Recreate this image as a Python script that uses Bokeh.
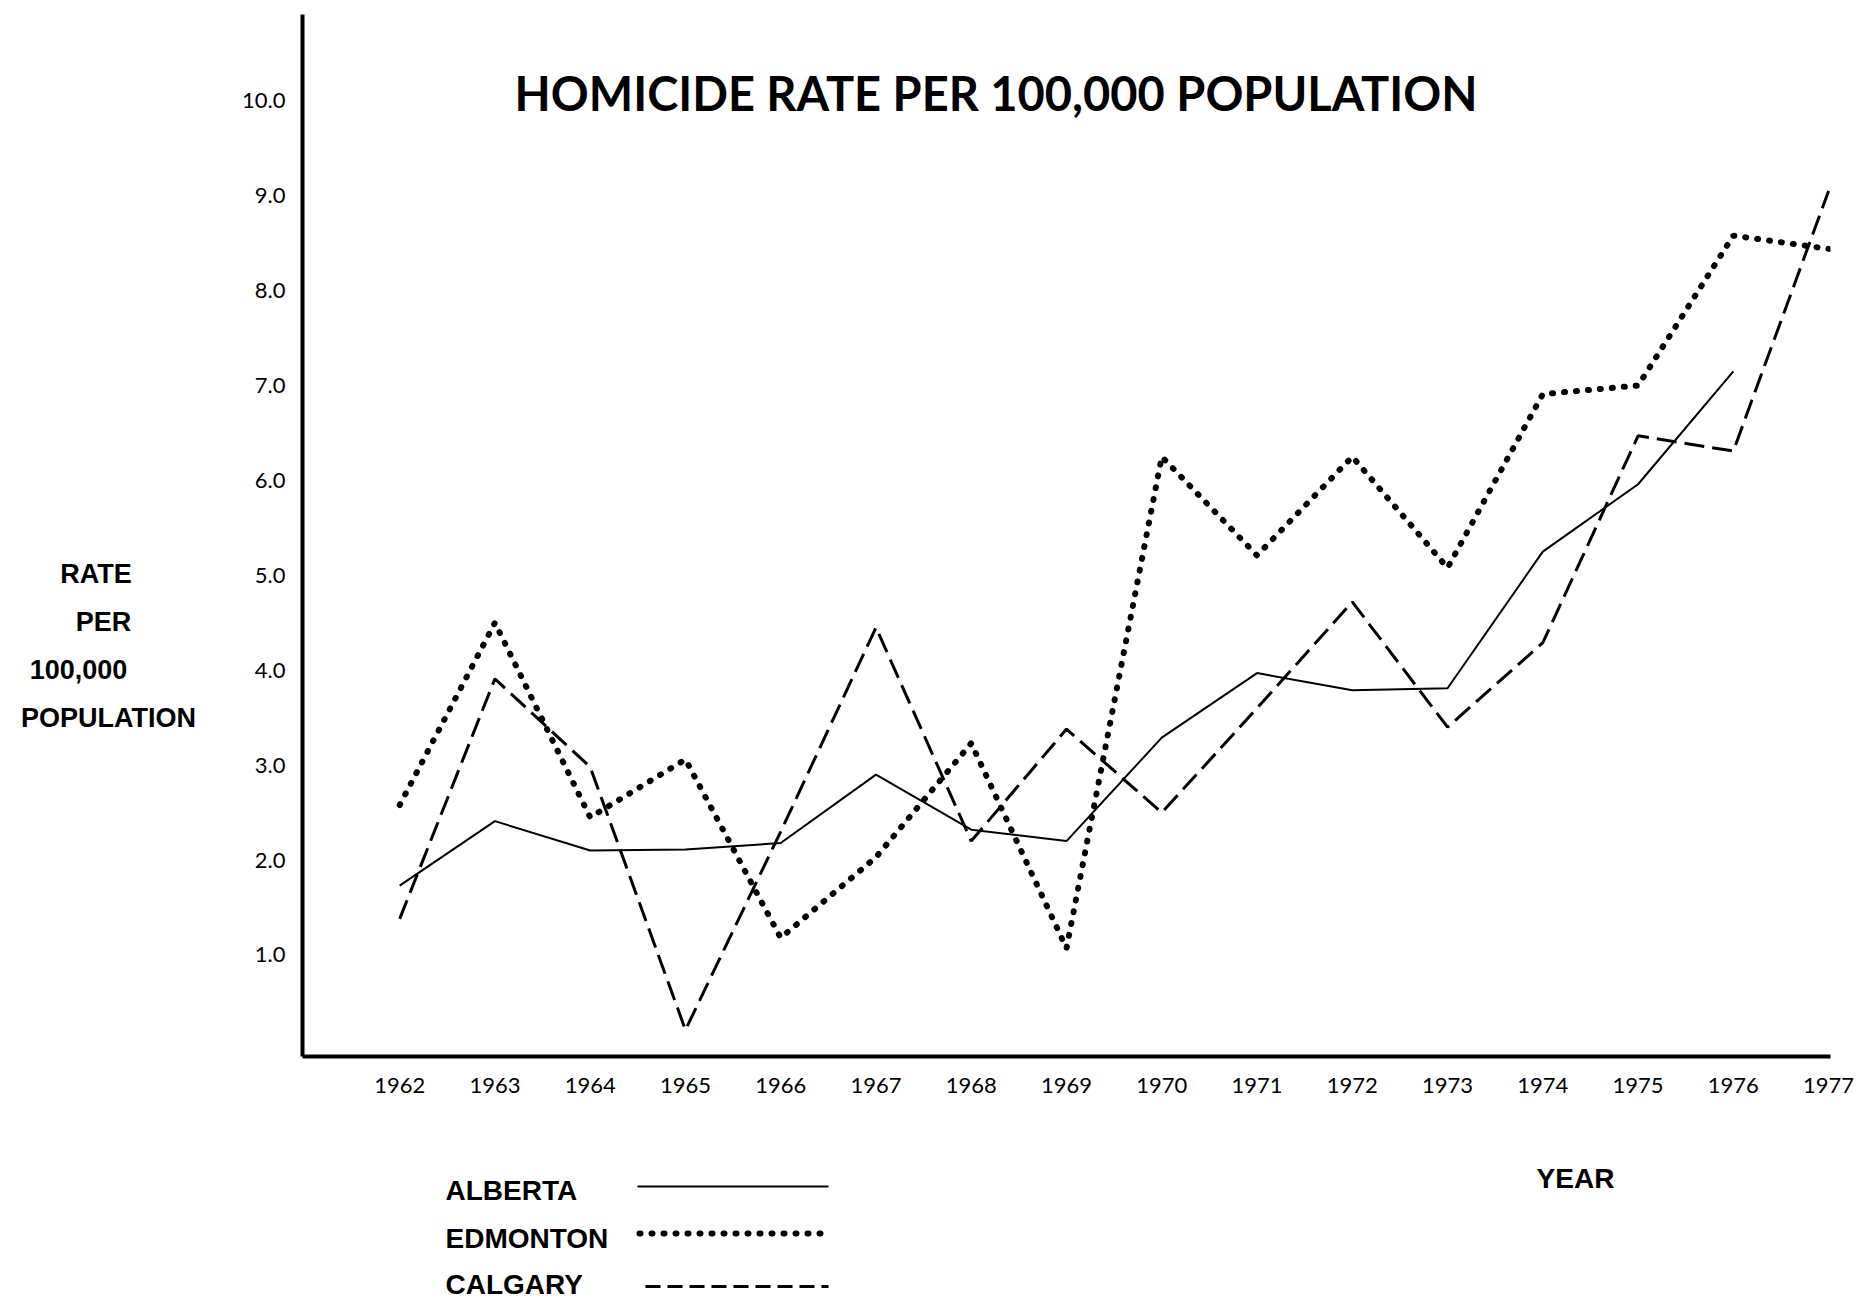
from bokeh.plotting import figure
from bokeh.layouts import column, row
from bokeh.models import Range1d, FixedTicker, NumeralTickFormatter, Label
from bokeh.core.properties import value
from bokeh.embed import file_html
from bokeh.resources import INLINE

# ---- data ----
years = list(range(1962, 1978))
alberta_years = list(range(1962, 1977))
alberta = [1.73, 2.41, 2.10, 2.11, 2.18, 2.90, 2.32, 2.20, 3.29, 3.97, 3.79, 3.81, 5.25, 5.96, 7.15]
edmonton = [2.58, 4.50, 2.45, 3.06, 1.18, 2.03, 3.23, 1.07, 6.25, 5.21, 6.25, 5.08, 6.91, 7.00, 8.58, 8.44]
calgary = [1.38, 3.91, 2.98, 0.21, 2.30, 4.45, 2.20, 3.38, 2.50, 3.60, 4.72, 3.40, 4.29, 6.47, 6.31, 9.05]
y_ticks = [1, 2, 3, 4, 5, 6, 7, 8, 9, 10]
x_ticks = years

title_text = "HOMICIDE RATE PER 100,000 POPULATION"
y_label_lines = ["RATE", "PER", "100,000", "POPULATION"]
x_label_text = "YEAR"
series_names = ["ALBERTA", "EDMONTON", "CALGARY"]

TOP_H = 1110
LEFT_W = 228
W, H = 1873, 1305
FRAME_TOP, FRAME_BOTTOM = 14, 1056

BOLD_SANS = value("Liberation Sans")

# ---- left panel: stacked y-axis title (frame is aligned with the main frame) ----
left = figure(width=LEFT_W, height=TOP_H, output_backend="svg", toolbar_location=None,
              x_range=Range1d(0, LEFT_W), y_range=Range1d(FRAME_BOTTOM, FRAME_TOP),
              x_axis_type=None, y_axis_type=None, min_border=0,
              min_border_top=FRAME_TOP, min_border_bottom=TOP_H - FRAME_BOTTOM)
left.outline_line_color = None
left.grid.grid_line_color = None
left.text(x=[95.6, 103, 78, 108], y=[573, 621, 669, 717], text=y_label_lines,
          text_font=BOLD_SANS, text_font_style="bold", text_font_size="27px",
          text_align="center", text_baseline="middle", text_color="black")

# ---- main chart ----
p = figure(width=W - LEFT_W, height=TOP_H, output_backend="svg", toolbar_location=None,
           x_range=Range1d(1960.98, 1977.02), y_range=Range1d(-0.07, 10.91),
           min_border_left=302 - LEFT_W, min_border_right=W - 1830, min_border_top=FRAME_TOP,
           min_border_bottom=TOP_H - FRAME_BOTTOM)
p.outline_line_color = None
p.xgrid.grid_line_color = None
p.ygrid.grid_line_color = None
p.background_fill_color = "white"
p.border_fill_color = "white"

for ax in (p.xaxis[0], p.yaxis[0]):
    ax.axis_line_width = 4
    ax.axis_line_color = "black"
    ax.major_tick_line_color = None
    ax.minor_tick_line_color = None
    ax.major_label_text_font = "Lato"
    ax.major_label_text_font_size = "22px"
    ax.major_label_text_color = "black"

p.xaxis.ticker = FixedTicker(ticks=x_ticks)
p.yaxis.ticker = FixedTicker(ticks=y_ticks)
p.yaxis.formatter = NumeralTickFormatter(format="0.0")
p.xaxis.major_label_standoff = 15
p.yaxis.major_label_standoff = 11

p.line(alberta_years, alberta, line_color="black", line_width=2)
p.line(years, edmonton, line_color="black", line_width=6, line_dash="1 11", line_cap="round")
p.line(years, calgary, line_color="black", line_width=3, line_dash="20 8")

p.add_layout(Label(x=1968.26, y=10.08, text=title_text, text_font="Lato", text_font_style="bold",
                   text_font_size="47px", text_align="center", text_baseline="middle",
                   text_color="black"))

# ---- bottom panel: legend and x-axis title ----
BOT_H = H - TOP_H
bot = figure(width=W, height=BOT_H, output_backend="svg", toolbar_location=None,
             x_range=Range1d(0, W), y_range=Range1d(BOT_H, 0),
             x_axis_type=None, y_axis_type=None, min_border=0)
bot.outline_line_color = None
bot.grid.grid_line_color = None
bot.text(x=[445, 445, 445], y=[80, 127.5, 174], text=series_names,
         text_font=BOLD_SANS, text_font_style="bold", text_font_size="28px",
         text_align="left", text_baseline="middle", text_color="black")
bot.text(x=[1575], y=[68], text=[x_label_text],
         text_font=BOLD_SANS, text_font_style="bold", text_font_size="28px",
         text_align="center", text_baseline="middle", text_color="black")
bot.line([637, 828], [76, 76], line_color="black", line_width=2)
bot.line([639, 824], [123, 123], line_color="black", line_width=6, line_dash="1 11", line_cap="round")
bot.line([645, 828], [176, 176], line_color="black", line_width=3, line_dash="15 7")

layout = column(row(left, p), bot)
open("out.html", "w").write(file_html(layout, INLINE, title="Homicide rate per 100,000 population"))
